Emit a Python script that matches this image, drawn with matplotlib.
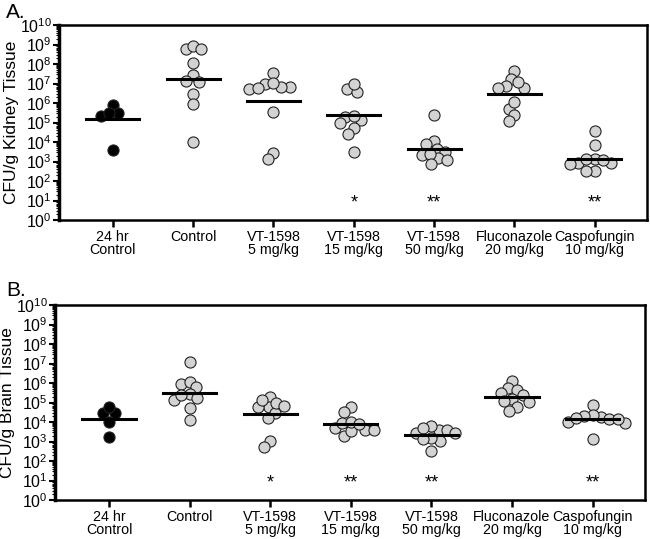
import numpy as np
import matplotlib.pyplot as plt
from matplotlib.ticker import LogLocator, NullFormatter, FixedLocator

plt.rcParams['font.family'] = ['Liberation Sans', 'DejaVu Sans']
plt.rcParams['mathtext.fontset'] = 'custom'
plt.rcParams['mathtext.rm'] = 'Liberation Sans'
plt.rcParams['mathtext.default'] = 'regular'

# Groups / labels
groups = ['24 hr\nControl', 'Control', 'VT-1598\n5 mg/kg', 'VT-1598\n15 mg/kg',
          'VT-1598\n50 mg/kg', 'Fluconazole\n20 mg/kg', 'Caspofungin\n10 mg/kg']

# log10 CFU/g
kidney_log10 = [
    [5.90, 5.47, 5.35, 5.50, 3.59],
    [8.75, 8.94, 8.75, 8.07, 7.42, 7.09, 7.15, 6.46, 5.93, 3.98],
    [7.52, 6.97, 6.80, 6.74, 6.75, 6.84, 7.03, 5.54, 3.45, 3.14],
    [6.72, 6.58, 6.99, 5.13, 5.27, 5.35, 4.96, 4.73, 4.39, 3.49],
    [5.37, 4.05, 3.88, 3.64, 3.50, 3.33, 3.16, 3.37, 3.08, 2.87],
    [7.64, 7.25, 6.75, 6.89, 7.06, 6.75, 5.71, 6.03, 5.38, 5.06],
    [4.55, 3.83, 2.94, 3.11, 2.91, 3.11, 3.08, 2.87, 2.51, 2.51],
]
brain_log10 = [
    [4.44, 4.44, 4.77, 3.98, 3.25],
    [7.08, 5.97, 6.04, 5.78, 5.42, 5.21, 5.13, 5.37, 4.72, 4.09],
    [5.30, 4.75, 4.44, 4.99, 4.75, 5.13, 4.84, 4.19, 3.04, 2.73],
    [4.79, 4.51, 3.71, 3.59, 3.93, 3.28, 3.54, 3.98, 3.59, 3.88],
    [3.59, 3.79, 3.45, 3.68, 3.59, 3.42, 3.03, 3.16, 3.11, 2.53],
    [6.12, 5.73, 5.50, 5.64, 5.38, 5.16, 5.04, 5.08, 4.79, 4.58],
    [4.87, 4.24, 4.36, 4.14, 3.97, 4.02, 4.32, 4.14, 4.19, 3.13],
]
kidney_stars = ['', '', '', '*', '**', '', '**']
brain_stars = ['', '', '*', '**', '**', '', '**']


def swarm(vals, d=8.5, px_x=80.5, px_y=19.5):
    # simple beeswarm in pixel space, returns x offsets in data units
    vals = np.asarray(vals)
    order = np.argsort(-vals, kind='stable')
    placed = []
    offs = np.zeros(len(vals))
    for i in order:
        y = vals[i] * px_y
        cands = [0.0]
        for xj, yj in placed:
            dy = abs(y - yj)
            if dy < d:
                w = np.sqrt(d * d - dy * dy)
                cands += [xj - w, xj + w]
        cands.sort(key=lambda c: (round(abs(c), 6), c))
        x = 0.0
        for c in cands:
            if all((c - xj) ** 2 + (y - yj) ** 2 >= d * d - 1e-6 for xj, yj in placed):
                x = c
                break
        placed.append((x, y))
        offs[i] = x / px_x
    return offs


def panel(ax, data, stars, ylabel):
    for i, vals in enumerate(data):
        vals = np.array(vals)
        xs = i + swarm(vals)
        fc = 'black' if i == 0 else '#d3d3d3'
        ax.plot(xs, 10 ** vals, 'o', ms=8, mfc=fc, mec='#222222', mew=0.8,
                zorder=3, clip_on=False)
        m = vals.mean()
        ax.plot([i - 0.33, i + 0.33], [10 ** m, 10 ** m], color='black', lw=2.2, zorder=4)
        if stars[i]:
            ax.text(i, 10 ** 0.85, stars[i], ha='center', va='center', fontsize=13)

    ax.set_yscale('log')
    ax.set_ylim(1, 1e10)
    ax.set_xlim(-0.67, 6.65)
    ax.yaxis.set_major_locator(FixedLocator(10.0 ** np.arange(11)))
    ax.set_yticklabels([r'$10^{%d}$' % k for k in range(11)], fontsize=11.5)
    ax.yaxis.set_minor_locator(LogLocator(base=10, subs=np.arange(2, 10), numticks=200))
    ax.yaxis.set_minor_formatter(NullFormatter())
    ax.set_xticks(range(len(groups)))
    ax.set_xticklabels(groups, fontsize=10.3, linespacing=0.95)
    ax.tick_params(axis='y', which='major', length=4, width=1.5, pad=1)
    ax.tick_params(axis='y', which='minor', length=2.5, width=0.8)
    ax.tick_params(axis='x', length=5, width=1.8, pad=2)
    for s in ax.spines.values():
        s.set_linewidth(1.8)
    ax.spines['left'].set_linewidth(2.5)
    ax.set_ylabel(ylabel, fontsize=12.5, labelpad=1)


fig = plt.figure(figsize=(6.5, 5.39), dpi=100)
W, H = 650.0, 539.0
axA = fig.add_axes([59 / W, 1 - 220 / H, 588 / W, 195 / H])
axB = fig.add_axes([55 / W, 1 - 500 / H, 590 / W, 195 / H])

panel(axA, kidney_log10, kidney_stars, 'CFU/g Kidney Tissue')
panel(axB, brain_log10, brain_stars, 'CFU/g Brain Tissue')

fig.text(6 / W, 1 - 13 / H, 'A.', fontsize=15, ha='left', va='center')
fig.text(6 / W, 1 - 290 / H, 'B.', fontsize=15, ha='left', va='center')

fig.savefig('out.png', dpi=100)
